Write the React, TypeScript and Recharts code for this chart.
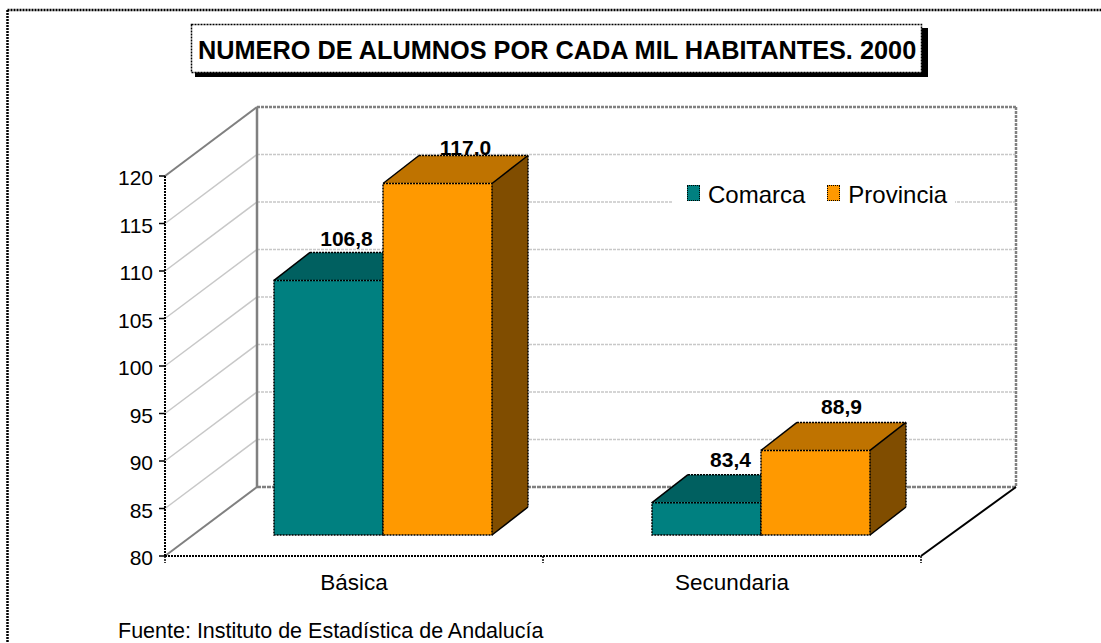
import { Bar, BarChart, Legend, XAxis, YAxis } from "recharts";

const categories = ["Básica", "Secundaria"];
const comarca = [106.8, 83.4];
const provincia = [117.0, 88.9];
const yTicks = [80, 85, 90, 95, 100, 105, 110, 115, 120];

const data = categories.map((name, i) => ({
  name,
  Comarca: comarca[i],
  Provincia: provincia[i],
}));

const FONT = "'Liberation Sans', Arial, sans-serif";
const DOTS = "2 1";

// front axes of the box and how far back the wall sits
const LEFT = 165;
const RIGHT = 921;
const TOP = 176;
const BOTTOM = 556;
const WALL_DX = 92;
const WALL_DY = 69;

// bars float off the front edge of the floor
const BAR_DX = 29;
const BAR_DY = 21;
const DEPTH_X = 36;
const DEPTH_Y = 28;

const tickY = (t: number) =>
  BOTTOM - ((t - yTicks[0]) / (yTicks[yTicks.length - 1] - yTicks[0])) * (BOTTOM - TOP);

const fmt = (v: number) => v.toFixed(1).replace(".", ",");

function Bar3D(props: any) {
  const { x, y, width, height, value, index, front, top, side, labelDx, labelDy } = props;
  const v = Array.isArray(value) ? value[1] : value;
  const l = x + BAR_DX;
  const r = l + width;
  const t = y - BAR_DY;
  const b = t + height;
  const topFace = `${l},${t} ${l + DEPTH_X},${t - DEPTH_Y} ${r + DEPTH_X},${t - DEPTH_Y} ${r},${t}`;
  const sideFace = `${r},${t} ${r + DEPTH_X},${t - DEPTH_Y} ${r + DEPTH_X},${b - DEPTH_Y} ${r},${b}`;
  return (
    <g>
      <text
        x={l + width / 2 + labelDx[index]}
        y={t - DEPTH_Y + labelDy[index]}
        textAnchor="middle"
        fontFamily={FONT}
        fontWeight="bold"
        fontSize={21}
        fill="#000"
      >
        {fmt(v)}
      </text>
      <polygon points={topFace} fill={top} />
      <polygon points={sideFace} fill={side} />
      <rect x={l} y={t} width={width} height={height} fill={front} />
      <rect x={l} y={t} width={width} height={height} fill="none" stroke="#000" strokeWidth={1.5} strokeDasharray={DOTS} />
      <line x1={l} y1={t} x2={l + DEPTH_X} y2={t - DEPTH_Y} stroke="#000" strokeWidth={1.5} />
      <line x1={r} y1={t} x2={r + DEPTH_X} y2={t - DEPTH_Y} stroke="#000" strokeWidth={1.5} />
      <line x1={r} y1={b} x2={r + DEPTH_X} y2={b - DEPTH_Y} stroke="#000" strokeWidth={1.5} />
      <line x1={l + DEPTH_X} y1={t - DEPTH_Y} x2={r + DEPTH_X} y2={t - DEPTH_Y} stroke="#000" strokeWidth={1.5} strokeDasharray={DOTS} />
      <line x1={r + DEPTH_X} y1={t - DEPTH_Y} x2={r + DEPTH_X} y2={b - DEPTH_Y} stroke="#000" strokeWidth={1.5} strokeDasharray={DOTS} />
    </g>
  );
}

function Walls() {
  const backL = LEFT + WALL_DX;
  const backR = RIGHT + WALL_DX + 3;
  const backT = TOP - WALL_DY;
  const backB = BOTTOM - WALL_DY;
  return (
    <g>
      {yTicks.slice(1, -1).map((t) => (
        <g key={t} stroke="#c8c8c8" strokeWidth={1.5}>
          <line x1={LEFT} y1={tickY(t)} x2={backL} y2={tickY(t) - WALL_DY} />
          <line x1={backL} y1={tickY(t) - WALL_DY} x2={backR} y2={tickY(t) - WALL_DY} strokeDasharray="3 1" />
        </g>
      ))}
      <g stroke="#808080" fill="none">
        <line x1={LEFT} y1={TOP} x2={backL} y2={backT} strokeWidth={2} />
        <line x1={LEFT} y1={BOTTOM} x2={backL} y2={backB} strokeWidth={2} />
        <line x1={backL} y1={backT} x2={backR} y2={backT} strokeWidth={2.5} strokeDasharray="3 1" />
        <line x1={backL} y1={backT} x2={backL} y2={backB} strokeWidth={2.5} />
        <line x1={backL} y1={backB} x2={backR} y2={backB} strokeWidth={2.5} strokeDasharray="4 1" />
        <line x1={backR} y1={backT} x2={backR} y2={backB} strokeWidth={2.5} strokeDasharray="3 1" />
      </g>
      <line x1={RIGHT} y1={BOTTOM} x2={backR} y2={backB} stroke="#000" strokeWidth={2} />
    </g>
  );
}

function Frame() {
  return (
    <g>
      <line x1={7.5} y1={10} x2={1101} y2={10} stroke="#000" strokeWidth={2.5} strokeDasharray={DOTS} />
      <line x1={7.5} y1={10} x2={7.5} y2={643} stroke="#000" strokeWidth={2.5} strokeDasharray={DOTS} />
      <rect x={195} y={28} width={733} height={49} fill="#000" />
      <rect x={191.5} y={24.5} width={730} height={48} fill="#fff" stroke="#000" strokeWidth={1.5} strokeDasharray={DOTS} />
      <text x={198} y={59} fontFamily={FONT} fontWeight="bold" fontSize={25.3} fill="#000">
        NUMERO DE ALUMNOS POR CADA MIL HABITANTES. 2000
      </text>
      <text x={118} y={638.4} fontFamily={FONT} fontSize={21.5} fill="#000">
        Fuente: Instituto de Estadística de Andalucía
      </text>
    </g>
  );
}

function LegendBox({ payload }: any) {
  return (
    <div
      style={{
        display: "flex",
        background: "#fff",
        boxSizing: "border-box",
        width: 282,
        paddingLeft: 14,
        fontFamily: FONT,
        fontSize: 24,
        lineHeight: "30px",
        color: "#000",
      }}
    >
      {(payload || []).map((p: any) => (
        <div key={p.value} style={{ display: "flex", alignItems: "center", marginRight: 22 }}>
          <span
            style={{
              boxSizing: "border-box",
              width: 13,
              height: 16,
              marginRight: 8,
              marginTop: -4,
              background: p.color,
              border: "1.5px dotted #000",
            }}
          />
          {p.value}
        </div>
      ))}
    </div>
  );
}

export default function App() {
  return (
    <div style={{ position: "absolute", left: 0, top: 0 }}>
      <BarChart
        width={1101}
        height={643}
        data={data}
        margin={{ top: TOP, right: 1101 - RIGHT, bottom: 0, left: 0 }}
        barSize={109}
        barGap={0}
      >
        <Frame />
        <Walls />
        <XAxis
          dataKey="name"
          height={643 - BOTTOM}
          tick={{ fill: "#000", fontFamily: FONT, fontSize: 22.5, dy: 10 }}
          tickLine={false}
          axisLine={{ stroke: "#000", strokeDasharray: DOTS, strokeWidth: 2 }}
        />
        <YAxis
          width={LEFT}
          domain={[80, 120]}
          ticks={yTicks}
          interval={0}
          tickSize={6}
          tickMargin={6}
          tick={{ fill: "#000", fontFamily: FONT, fontSize: 21, dy: 2 }}
          tickLine={{ stroke: "#000", strokeWidth: 1.5 }}
          axisLine={{ stroke: "#000", strokeDasharray: DOTS, strokeWidth: 2 }}
        />
        {[LEFT, (LEFT + RIGHT) / 2, RIGHT].map((x) => (
          <line key={x} x1={x} y1={BOTTOM} x2={x} y2={BOTTOM + 7} stroke="#000" strokeWidth={1.5} strokeDasharray={DOTS} />
        ))}
        <Legend
          layout="horizontal"
          align="center"
          verticalAlign="middle"
          wrapperStyle={{ left: 673, top: 180, width: 282 }}
          content={<LegendBox />}
        />
        <Bar
          dataKey="Comarca"
          fill="#008080"
          isAnimationActive={false}
          shape={
            <Bar3D front="#008080" top="#006060" side="#004d4d" labelDx={[18, 24]} labelDy={[-6, -8]} />
          }
        />
        <Bar
          dataKey="Provincia"
          fill="#FF9900"
          isAnimationActive={false}
          shape={
            <Bar3D front="#FF9900" top="#BF7300" side="#804D00" labelDx={[28, 26]} labelDy={[-1, -8]} />
          }
        />
      </BarChart>
    </div>
  );
}
